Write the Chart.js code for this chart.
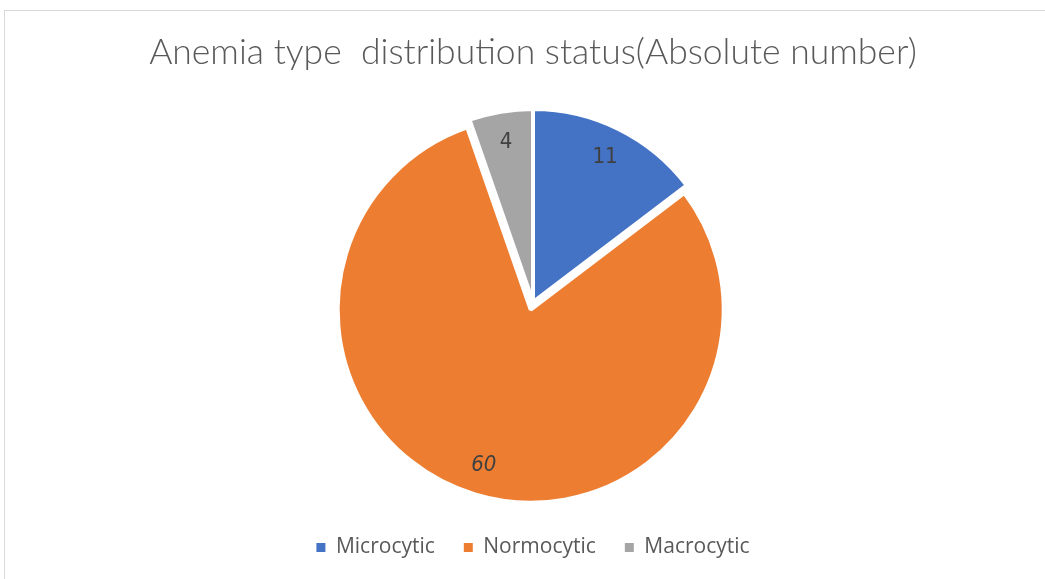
<!DOCTYPE html>
<html>
<head>
<meta charset="utf-8">
<script src="https://cdn.jsdelivr.net/npm/chart.js@4/dist/chart.umd.min.js"></script>
<style>
  html, body { margin: 0; padding: 0; background: #ffffff; overflow: hidden; }
  #wrap { position: relative; width: 1045px; height: 579px; overflow: hidden; }
  #frame { position: absolute; left: 4px; top: 10px; width: 2000px; height: 2000px; border: 1px solid #d9d9d9; box-sizing: border-box; }
  canvas { position: absolute; left: 0; top: 0; }
</style>
</head>
<body>
<div id="wrap">
  <div id="frame"></div>
  <canvas id="c" width="1045" height="579"></canvas>
</div>
<script>
const chartTitle = 'Anemia type  distribution status(Absolute number)';
const categories = ['Microcytic', 'Normocytic', 'Macrocytic'];
const values = [11, 60, 4];
const sliceColors = ['#4472C4', '#ED7D31', '#A5A5A5'];
const sliceExplode = [0, 8, 0];
const labelFontStyles = ['normal', 'italic', 'normal'];

const condensed = '"DejaVu Sans Condensed", "DejaVu Sans", sans-serif';

// Explode slices outward along their mid-angle (like Excel's point explosion)
const explodePlugin = {
  id: 'explodeSlices',
  afterDatasetsUpdate(chart) {
    const meta = chart.getDatasetMeta(0);
    meta.data.forEach((arc, i) => {
      const d = sliceExplode[i] || 0;
      const mid = (arc.startAngle + arc.endAngle) / 2;
      arc.x += Math.cos(mid) * d;
      arc.y += Math.sin(mid) * d;
    });
  }
};

const valueLabels = {
  id: 'valueLabels',
  afterDatasetsDraw(chart) {
    const ctx = chart.ctx;
    const meta = chart.getDatasetMeta(0);
    const ds = chart.data.datasets[0];
    ctx.save();
    ctx.fillStyle = '#404040';
    ctx.textAlign = 'center';
    ctx.textBaseline = 'middle';
    meta.data.forEach((arc, i) => {
      const p = arc.getProps(['x', 'y', 'startAngle', 'endAngle', 'outerRadius'], true);
      const mid = (p.startAngle + p.endAngle) / 2;
      const r = p.outerRadius * 0.84;
      ctx.font = labelFontStyles[i] + ' 22px ' + condensed;
      ctx.fillText(String(ds.data[i]), p.x + Math.cos(mid) * r, p.y + Math.sin(mid) * r);
    });
    ctx.restore();
  }
};

const defaultPieLabels = Chart.overrides.pie.plugins.legend.labels.generateLabels;

new Chart(document.getElementById('c'), {
  type: 'pie',
  data: {
    labels: categories,
    datasets: [{
      data: values,
      backgroundColor: sliceColors,
      borderColor: '#ffffff',
      borderWidth: 4
    }]
  },
  options: {
    responsive: false,
    devicePixelRatio: 1,
    animation: false,
    radius: 193,
    layout: { padding: { left: 21, right: 0, top: 0, bottom: 11 } },
    plugins: {
      title: {
        display: true,
        text: chartTitle,
        color: '#595959',
        font: { family: 'Lato, "Open Sans", sans-serif', size: 35.5, weight: 300, lineHeight: 1 },
        padding: { top: 34.5, bottom: 26 }
      },
      legend: {
        display: true,
        position: 'bottom',
        labels: {
          color: '#595959',
          font: { family: '"Open Sans", sans-serif', size: 21 },
          boxWidth: 9,
          boxHeight: 9,
          padding: 29,
          generateLabels(chart) {
            return defaultPieLabels(chart).map(item => Object.assign(item, { lineWidth: 0 }));
          }
        }
      },
      tooltip: { enabled: false }
    }
  },
  plugins: [explodePlugin, valueLabels]
});
</script>
</body>
</html>
